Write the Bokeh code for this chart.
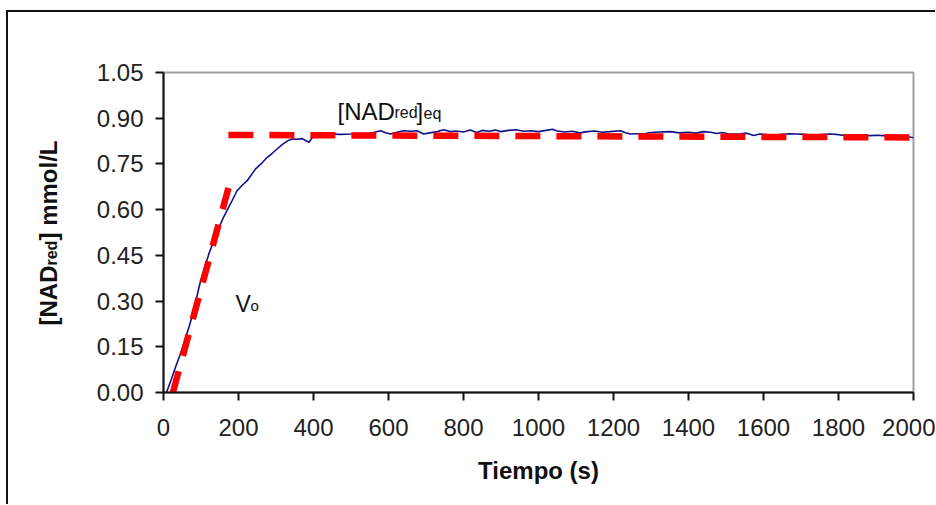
from math import pi
from bokeh.plotting import figure
from bokeh.layouts import row
from bokeh.models import Range1d, FixedTicker, Label
from bokeh.core.properties import value
from bokeh.embed import file_html
from bokeh.resources import INLINE

# ---- data ----
time_s = [8, 20, 32, 43, 54, 68, 81, 90, 99, 110,
          121, 135, 148, 160, 174, 183, 196, 210, 223, 235,
          245, 260, 276, 290, 303, 318, 334, 345, 356, 370,
          380, 388, 398, 410, 430, 450, 470, 499, 520, 540,
          560, 579, 592, 605, 620, 640, 660, 676, 694, 710,
          730, 747, 765, 780, 800, 818, 835, 850, 868, 885,
          900, 920, 940, 960, 980, 1000, 1020, 1037, 1050, 1070,
          1090, 1110, 1130, 1150, 1170, 1190, 1219, 1232, 1245, 1265,
          1285, 1300, 1320, 1352, 1375, 1400, 1420, 1440, 1459, 1475,
          1490, 1505, 1520, 1540, 1555, 1574, 1590, 1610, 1630, 1650,
          1670, 1690, 1710, 1730, 1750, 1779, 1800, 1820, 1840, 1860,
          1886, 1905, 1925, 1945, 1965, 1985, 2000]
nad_red = [0.000, 0.040, 0.083, 0.120, 0.160, 0.215, 0.270, 0.320, 0.367, 0.410,
           0.455, 0.500, 0.542, 0.575, 0.608, 0.630, 0.662, 0.680, 0.695, 0.715,
           0.733, 0.750, 0.771, 0.785, 0.799, 0.815, 0.828, 0.832, 0.831, 0.833,
           0.826, 0.821, 0.838, 0.848, 0.846, 0.848, 0.847, 0.848, 0.850, 0.849,
           0.853, 0.859, 0.852, 0.848, 0.853, 0.859, 0.857, 0.859, 0.848, 0.852,
           0.856, 0.862, 0.856, 0.858, 0.855, 0.861, 0.853, 0.860, 0.857, 0.861,
           0.856, 0.860, 0.862, 0.857, 0.859, 0.856, 0.860, 0.864, 0.858, 0.855,
           0.857, 0.852, 0.856, 0.858, 0.854, 0.856, 0.859, 0.852, 0.848, 0.849,
           0.850, 0.853, 0.855, 0.856, 0.852, 0.854, 0.851, 0.856, 0.854, 0.850,
           0.853, 0.849, 0.848, 0.849, 0.851, 0.843, 0.848, 0.846, 0.845, 0.847,
           0.849, 0.848, 0.847, 0.845, 0.846, 0.848, 0.846, 0.843, 0.845, 0.844,
           0.843, 0.844, 0.842, 0.840, 0.841, 0.839, 0.836]
assert len(time_s) == len(nad_red)

tangent_t = [25, 184]
tangent_y = [0.0, 0.72]
eq_t = [173, 2000]
eq_y = [0.845, 0.837]

x_ticks = [0, 200, 400, 600, 800, 1000, 1200, 1400, 1600, 1800, 2000]
x_tick_labels = ["0", "200", "400", "600", "800", "1000", "1200", "1400", "1600", "1800", "2000"]
y_ticks = [0.0, 0.15, 0.30, 0.45, 0.60, 0.75, 0.90, 1.05]
y_tick_labels = ["0.00", "0.15", "0.30", "0.45", "0.60", "0.75", "0.90", "1.05"]

X_MAX = 2000
Y_MAX = 1.05
FONT = "Liberation Sans"

# ---- layout geometry (page pixels) ----
OX, OY = 8, 12            # page position of the content inside the border
TOTAL_W, H = 927, 492
LAB_W = 70                # strip holding the rotated y-axis title
MAIN_W = TOTAL_W - LAB_W
FL, FR, FT, FB = 163, 913, 72, 392   # plot frame in page pixels
LAB_SHIFT = 11            # empirical horizontal correction for the rotated strip text

# ---- y-axis title strip (frame is aligned with main frame vertically) ----
lab = figure(width=LAB_W, height=H, x_range=Range1d(0, LAB_W), y_range=Range1d(FB, FT),
             output_backend="svg", toolbar_location=None,
             x_axis_location=None, y_axis_location=None,
             min_border_left=0, min_border_right=0, min_border_top=0, min_border_bottom=0)
lab.grid.visible = False
lab.outline_line_color = None
lab.background_fill_color = "white"
lab.border_fill_color = "white"


def strip_text(px, py, text, size):
    lab.text(x=[px - OX - LAB_SHIFT], y=[py], text=[text], angle=pi / 2,
             text_font=value(FONT), text_font_size=f"{size}px", text_font_style="bold",
             text_color="#111", text_align="left", text_baseline="alphabetic")


strip_text(59, 325, "[NAD", 24)
strip_text(62, 265, "red", 16)
strip_text(59, 240, "] mmol/L", 24)

# ---- main figure ----
p = figure(width=MAIN_W, height=H, x_range=Range1d(0, X_MAX), y_range=Range1d(0, Y_MAX),
           output_backend="svg", toolbar_location=None,
           min_border_left=FL - OX - LAB_W, min_border_right=(OX + TOTAL_W) - FR,
           min_border_top=FT - OY, min_border_bottom=(OY + H) - FB)
p.background_fill_color = "white"
p.border_fill_color = "white"
p.xgrid.visible = False
p.ygrid.visible = False
p.outline_line_color = "#a0a0a0"
p.outline_line_width = 2

for ax in (p.xaxis[0], p.yaxis[0]):
    ax.axis_line_color = "#111"
    ax.axis_line_width = 2
    ax.major_tick_line_color = "#111"
    ax.major_tick_line_width = 2
    ax.major_tick_out = 8
    ax.major_tick_in = 0
    ax.minor_tick_out = 0
    ax.minor_tick_in = 0
    ax.major_label_text_font = FONT
    ax.major_label_text_font_size = "24px"
    ax.major_label_text_color = "#222"
p.yaxis.major_label_standoff = 12
p.xaxis.major_label_standoff = 18

p.xaxis.ticker = FixedTicker(ticks=x_ticks)
p.xaxis.major_label_overrides = {t: s for t, s in zip(x_ticks, x_tick_labels)}
p.yaxis.ticker = FixedTicker(ticks=y_ticks)
p.yaxis.major_label_overrides = {t: s for t, s in zip(y_ticks, y_tick_labels)}

p.xaxis.axis_label = "Tiempo (s)"
p.xaxis.axis_label_text_font = FONT
p.xaxis.axis_label_text_font_size = "24px"
p.xaxis.axis_label_text_font_style = "bold"
p.xaxis.axis_label_text_color = "#111"
p.xaxis.axis_label_standoff = 18

# ---- glyphs ----
p.line(time_s, nad_red, line_color="#10108a", line_width=1.6)
p.line(tangent_t, tangent_y, line_color="#ff0000", line_width=6.5, line_dash="22 16")
p.line(eq_t, eq_y, line_color="#ff0000", line_width=6.5, line_dash="25 16")


def dx(px):
    return (px - FL) * X_MAX / (FR - FL)


def dy(py):
    return (FB - py) * Y_MAX / (FB - FT)


def add_text(px, py, text, size):
    p.add_layout(Label(x=dx(px), y=dy(py), text=text, text_font=FONT,
                       text_font_size=f"{size}px", text_color="#111",
                       text_align="left", text_baseline="alphabetic"))


# [NADred]eq
add_text(337, 111, "[NAD", 24)
add_text(394, 112, "red", 16)
add_text(416, 111, "]", 24)
add_text(423, 113, "eq", 16)
# Vo
add_text(235, 303, "V", 23)
add_text(250, 305, "o", 15)

layout = row(lab, p, spacing=0)
layout.styles = {"border-top": "2px solid #111", "border-left": "2px solid #111",
                 "margin-top": "10px", "margin-left": "6px"}

open("out.html", "w").write(file_html(layout, INLINE))
